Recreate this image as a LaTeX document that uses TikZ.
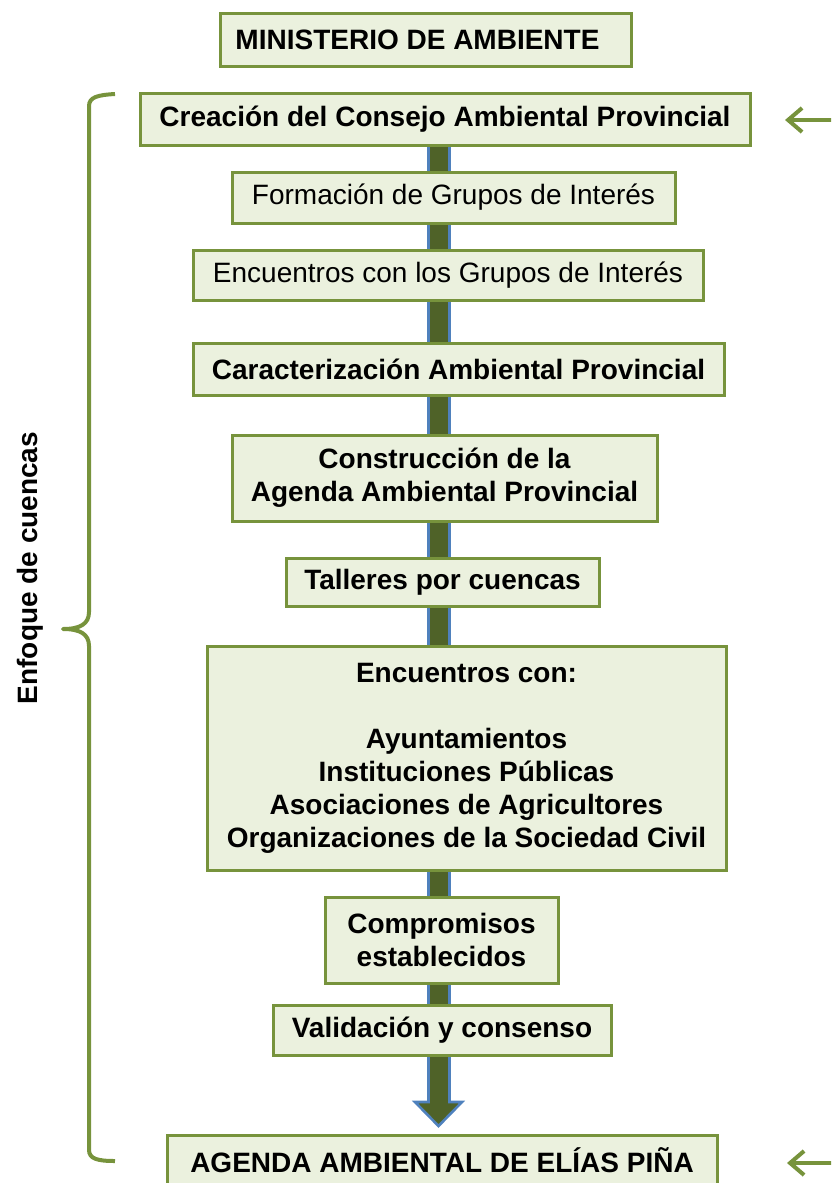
\documentclass[tikz,border=0pt]{standalone}
\usepackage{fontspec}
\setmainfont{Liberation Sans}
\usetikzlibrary{arrows.meta}
\definecolor{bgreen}{HTML}{77933C}
\definecolor{bfill}{HTML}{EBF1DE}
\definecolor{afill}{HTML}{4F6228}
\definecolor{aline}{HTML}{4F81BD}
\tikzset{
  box/.style={draw=bgreen, fill=bfill, line width=3pt, inner sep=0pt, align=center,
    font=\fontsize{28}{33}\selectfont\bfseries},
  plainbox/.style={box, font=\fontsize{28}{33}\selectfont},
  brace/.style={draw=bgreen, line width=4pt, line join=round},
  sidearrow/.style={draw=bgreen, line width=4pt, -{Straight Barb[length=14pt,width=24pt,line width=4pt]}},
  bigarrow/.style={fill=afill, draw=aline, line width=2.6pt, line join=miter}
}
\begin{document}
\begin{tikzpicture}[x=1pt,y=-1pt]
\useasboundingbox (0,0) rectangle (831,1183);
\clip (0,0) rectangle (831,1183);
% central arrow
\draw[bigarrow] (428.5,145) -- (449.5,145) -- (449.5,1102) -- (462,1102) -- (438.5,1126) -- (415,1102) -- (428.5,1102) -- cycle;
% boxes
\node[box, minimum width=411, minimum height=53] (min) at (425.5,39.5) {\hspace*{-16pt}MINISTERIO DE AMBIENTE};
\node[box, minimum width=610, minimum height=52] (cre) at (445,119) {Creación del Consejo Ambiental Provincial};
\node[plainbox, minimum width=443, minimum height=51] (for) at (453.5,197.5) {Formación de Grupos de Interés};
\node[plainbox, minimum width=510, minimum height=50] (enc) at (448,275) {Encuentros con los Grupos de Interés};
\node[box, minimum width=531, minimum height=52] (car) at (458.5,369) {Caracterización Ambiental Provincial};
\node[box, minimum width=425, minimum height=86] (con) at (444.5,478) {Construcción de la\\Agenda Ambiental Provincial};
\node[box, minimum width=313, minimum height=48] (tal) at (442.5,582) {Talleres por cuencas};
\node[box, minimum width=519, minimum height=224] (enccon) at (466.5,758) {Encuentros con:\\[33pt]Ayuntamientos\\Instituciones Públicas\\Asociaciones de Agricultores\\Organizaciones de la Sociedad Civil};
\node[box, minimum width=233, minimum height=86] (com) at (441.5,940) {Compromisos\\establecidos};
\node[box, minimum width=338, minimum height=50] (val) at (442,1030) {Validación y consenso};
\node[box, minimum width=550, minimum height=50] (age) at (442,1160) {AGENDA AMBIENTAL DE ELÍAS PIÑA};
% brace
\draw[brace] (115,94) .. controls (98,95) and (89,97) .. (89,106) -- (89,612)
  .. controls (89,624) and (80,629) .. (63,629)
  .. controls (80,629) and (89,634) .. (89,646) -- (89,1150)
  .. controls (89,1159) and (98,1161) .. (115,1161);
\node[font=\fontsize{28}{30}\selectfont\bfseries, rotate=90] (lab) at (30,568) {Enfoque de cuencas};
% side arrows
\coordinate (a1s) at (835,120);
\coordinate (a1e) at (785,120);
\coordinate (a2s) at (835,1163);
\coordinate (a2e) at (787,1163);
\draw[sidearrow] (a1s) -- (a1e);
\draw[sidearrow] (a2s) -- (a2e);
\end{tikzpicture}
\end{document}
